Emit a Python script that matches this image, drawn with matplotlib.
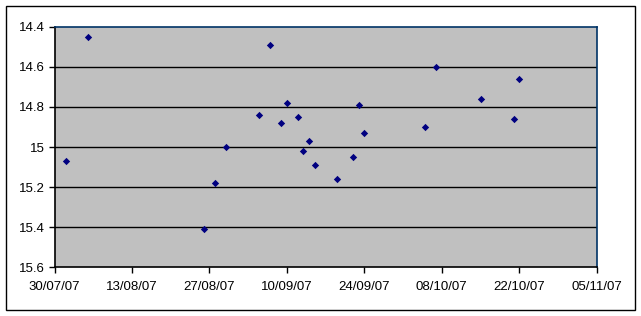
import pandas as pd
import matplotlib
matplotlib.use("Agg")
import matplotlib.pyplot as plt
import matplotlib.dates as mdates
from matplotlib.patches import Rectangle

# readings (dates and values)
dates = ['2007-08-01', '2007-08-05', '2007-08-26', '2007-08-28', '2007-08-30',
         '2007-09-05', '2007-09-07', '2007-09-09', '2007-09-10', '2007-09-12',
         '2007-09-13', '2007-09-14', '2007-09-15', '2007-09-19', '2007-09-22',
         '2007-09-23', '2007-09-24', '2007-10-05', '2007-10-07', '2007-10-15',
         '2007-10-21', '2007-10-22']
values = [15.07, 14.45, 15.41, 15.18, 15.0,
          14.84, 14.49, 14.88, 14.78, 14.85,
          15.02, 14.97, 15.09, 15.16, 15.05,
          14.79, 14.93, 14.90, 14.60, 14.76,
          14.86, 14.66]
y_ticks = [14.4, 14.6, 14.8, 15.0, 15.2, 15.4, 15.6]
y_labels = ['14.4', '14.6', '14.8', '15', '15.2', '15.4', '15.6']

x = pd.to_datetime(dates)
x_start = pd.Timestamp('2007-07-30')
x_end = pd.Timestamp('2007-11-05')

plt.rcParams['font.family'] = ['Liberation Sans', 'DejaVu Sans']

fig = plt.figure(figsize=(6.41, 3.16), dpi=100)
fig.patches.append(Rectangle((6 / 641, 6 / 316), 629 / 641, 304 / 316,
                             transform=fig.transFigure, fill=False,
                             edgecolor='black', linewidth=1))
ax = fig.add_axes([54.5 / 641, 1 - 267.3 / 316, 542.2 / 641, 240.6 / 316])
ax.set_facecolor('#c0c0c0')

ax.scatter(x, values, marker='D', s=14, color='#000080', zorder=3, linewidths=0)

ax.set_xlim(x_start, x_end)
ax.set_ylim(15.6, 14.4)
ax.set_yticks(y_ticks)
ax.set_yticklabels(y_labels)
ax.xaxis.set_major_locator(mdates.DayLocator(bymonthday=None, interval=14))
ax.set_xticks(pd.date_range(x_start, x_end, freq='14D'))
ax.xaxis.set_major_formatter(mdates.DateFormatter('%d/%m/%y'))

for v in y_ticks[1:-1]:
    ax.axhline(v, color='black', linewidth=1, zorder=1)

ax.spines['top'].set_color('#003366')
ax.spines['right'].set_color('#003366')
ax.spines['left'].set_color('black')
ax.spines['bottom'].set_color('black')
for sp in ax.spines.values():
    sp.set_linewidth(1.2)

ax.tick_params(axis='both', direction='out', length=4, width=1, color='black',
               labelsize=9.5, pad=3)
ax.tick_params(axis='x', pad=6)

fig.savefig('out.png', dpi=100)
